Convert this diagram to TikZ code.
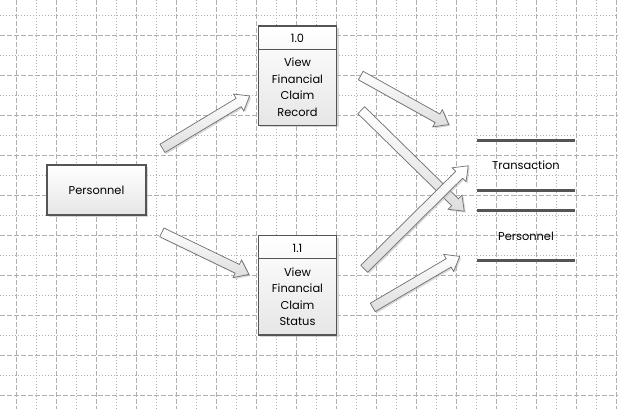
\documentclass[tikz,border=0pt]{standalone}
\usepackage{fontspec}
\setmainfont{Poppins}
\usetikzlibrary{shapes.arrows,shadows,calc}
\definecolor{gridgray}{HTML}{B0B0B0}
\definecolor{boxgray}{HTML}{555555}
\definecolor{arrgray}{HTML}{6E6E6E}
\definecolor{fillgray}{HTML}{E6E6E6}
\tikzset{
  gridmaj/.style={draw=gridgray, line width=0.9pt, dash pattern=on 5pt off 2pt},
  gridmin/.style={draw=gridgray, line width=0.9pt, dash pattern=on 1pt off 2pt},
  boxnode/.style={draw=boxgray, line width=1.2pt, top color=white, bottom color=fillgray, inner sep=0pt,
     drop shadow={shadow xshift=2pt, shadow yshift=-2pt, fill=black!30, opacity=0.5}},
  divline/.style={draw=boxgray, line width=1.2pt},
  storeline/.style={draw=boxgray, line width=3pt},
  lbl/.style={font=\fontsize{11.4}{16.5}\selectfont, align=center, inner sep=0pt, text=black},
  blockarr/.style={single arrow, draw=arrgray, line width=0.7pt, top color=white, bottom color=black!13,
     minimum width=19pt, single arrow head extend=5pt, single arrow tip angle=75,
     inner xsep=0pt, inner ysep=4.5pt,
     single arrow head indent=0pt,
     drop shadow={shadow xshift=1.5pt, shadow yshift=-1.5pt, fill=black!30, opacity=0.5}}
}
\newcommand\blockarrow[2]{\path let \p1=($(#2)-(#1)$), \n1={atan2(\y1,\x1)}, \n2={veclen(\x1,\y1)} in
  node[blockarr, minimum height=\n2, rotate=\n1] at ($(#1)!0.5!(#2)$) {};}
\begin{document}
\begin{tikzpicture}[x=1pt,y=1pt]
\useasboundingbox (0,0) rectangle (618,-409);
% grid
\foreach \k in {0,...,15} {\draw[gridmaj] (16.7+40*\k,0) -- (16.7+40*\k,-409);}
\foreach \k in {0,...,14} {\draw[gridmin] (36.7+40*\k,0) -- (36.7+40*\k,-409);}
\foreach \k in {0,...,9} {\draw[gridmaj] (0,-35-40*\k) -- (618,-35-40*\k);}
\foreach \k in {0,...,9} {\draw[gridmin] (0,-15-40*\k) -- (618,-15-40*\k);}
% external entity
\node[boxnode, minimum width=99pt, minimum height=50pt] (pers) at (96.5,-190) {};
\node[lbl] (perslbl) at (pers.center) {Personnel};
% process 1.0
\node[boxnode, minimum width=78.4pt, minimum height=99.3pt] (p10) at (297.5,-75.7) {};
\draw[divline] ([yshift=-24pt]p10.north west) -- ([yshift=-24pt]p10.north east);
\node[lbl] (p10id) at (297.5,-38.5) {1.0};
\node[lbl] (p10txt) at (297.5,-87) {View\\Financial\\Claim\\Record};
% process 1.1
\node[boxnode, minimum width=78.4pt, minimum height=99.3pt] (p11) at (297.5,-285.4) {};
\draw[divline] ([yshift=-23.6pt]p11.north west) -- ([yshift=-23.6pt]p11.north east);
\node[lbl] (p11id) at (297.5,-248) {1.1};
\node[lbl] (p11txt) at (297.5,-296.5) {View\\Financial\\Claim\\Status};
% data stores
\draw[storeline] (477,-140) -- (575,-140);
\draw[storeline] (477,-190.3) -- (575,-190.3);
\node[lbl] (ds1) at (526,-165.5) {Transaction};
\draw[storeline] (477,-210.3) -- (575,-210.3);
\draw[storeline] (477,-260) -- (575,-260);
\node[lbl] (ds2) at (526,-236.5) {Personnel};
% arrow end points
\coordinate (a1t) at (159.7,-150);  \coordinate (a1h) at (247,-97.5);
\coordinate (a2t) at (159,-231);    \coordinate (a2h) at (246,-273);
\coordinate (a3t) at (358,-74);     \coordinate (a3h) at (446,-123);
\coordinate (a4t) at (359,-108);    \coordinate (a4h) at (462,-209);
\coordinate (a5t) at (362,-271);    \coordinate (a5h) at (466,-168);
\coordinate (a6t) at (370,-309);    \coordinate (a6h) at (457,-258);
\blockarrow{a1t}{a1h}
\blockarrow{a2t}{a2h}
\blockarrow{a3t}{a3h}
\blockarrow{a4t}{a4h}
\blockarrow{a5t}{a5h}
\blockarrow{a6t}{a6h}
\end{tikzpicture}
\end{document}
